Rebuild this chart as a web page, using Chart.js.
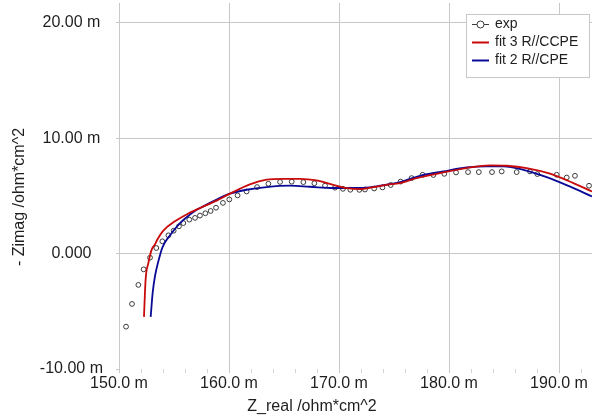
<!DOCTYPE html>
<html>
<head>
<meta charset="utf-8">
<title>Impedance fit</title>
<script src="https://cdn.jsdelivr.net/npm/chart.js@4/dist/chart.umd.min.js"></script>
<style>
  html, body { margin: 0; padding: 0; background: #fff; }
  #wrap { position: relative; width: 592px; height: 419px; }
</style>
</head>
<body>
<div id="wrap"><canvas id="chart"></canvas></div>
<script>
// Nyquist plot: measured points plus two equivalent-circuit fits (values in milli-ohm*cm^2).

const expX = [150.64, 151.18, 151.76, 152.24, 152.82, 153.39, 153.94, 154.49, 154.97, 155.45,
  155.85, 156.39, 156.91, 157.36, 157.85, 158.33, 158.82, 159.45, 160.03, 160.78,
  161.6, 162.55, 163.58, 164.64, 165.7, 166.76, 167.76, 168.73, 169.64, 170.36,
  171.03, 171.85, 172.36, 173.2, 173.95, 174.7, 175.6, 176.6, 177.6, 178.58,
  179.57, 180.64, 181.73, 182.71, 183.91, 184.79, 186.15, 187.36, 188.03, 189.79,
  190.7, 191.45, 192.73];
const expY = [-6.33, -4.36, -2.71, -1.36, -0.35, 0.49, 1.07, 1.59, 1.99, 2.37,
  2.65, 2.95, 3.1, 3.3, 3.5, 3.7, 3.98, 4.4, 4.7, 5.05,
  5.39, 5.77, 6.06, 6.22, 6.24, 6.2, 6.1, 5.9, 5.72, 5.62,
  5.54, 5.53, 5.56, 5.65, 5.74, 5.95, 6.25, 6.55, 6.84, 6.82,
  6.92, 7.04, 7.07, 7.07, 7.07, 7.13, 7.07, 7.13, 6.9, 6.84,
  6.6, 6.75, 5.89];

const fit3X = [152.27, 152.42, 152.67, 152.97, 153.27, 153.5, 154.03, 154.94, 156.15, 157.36,
  158.88, 160.09, 161.9, 163.42, 164.94, 166.45, 167.97, 169.48, 170.7, 171.91,
  173.12, 174.33, 175.55, 177.06, 179.48, 181.6, 183.73, 185.24, 187.06, 189.18,
  191.3, 193.0];
const fit3Y = [-5.48, -2.25, -0.81, 0.35, 0.8, 1.25, 2.0, 2.72, 3.4, 3.95,
  4.6, 5.2, 6.0, 6.41, 6.49, 6.49, 6.35, 5.97, 5.69, 5.6,
  5.77, 5.97, 6.12, 6.55, 7.04, 7.42, 7.65, 7.62, 7.42, 6.93,
  6.12, 5.39];

const fit2X = [152.88, 153.06, 153.27, 153.58, 153.95, 154.64, 155.55, 156.45, 157.06, 157.67,
  158.88, 160.09, 161.6, 163.42, 165.55, 167.36, 169.48, 171.0, 172.2, 173.73,
  175.55, 177.36, 179.48, 181.6, 183.42, 184.94, 186.76, 188.88, 190.97, 193.0];
const fit2Y = [-5.48, -3.4, -1.96, -0.66, 0.55, 1.6, 2.65, 3.38, 3.8, 4.1,
  4.7, 5.2, 5.54, 5.77, 5.89, 5.8, 5.69, 5.69, 5.71, 5.89,
  6.2, 6.75, 7.13, 7.47, 7.56, 7.56, 7.27, 6.64, 5.83, 4.96];

const xTicks = [150, 160, 170, 180, 190];
const yTicks = [-10, 0, 10, 20];
const xMinorStep = 2;

const FONT = 'Arial, "Liberation Sans", sans-serif';
const GRID = '#c8c8c8';
const TEXT = '#1e1e1e';

const toPoints = (xs, ys) => xs.map((x, i) => ({ x, y: ys[i] }));

// Axis titles sit off the plot centre, so they are painted by hand.
const axisTitles = {
  id: 'axisTitles',
  afterDraw(chart) {
    const { ctx } = chart;
    ctx.save();
    ctx.fillStyle = TEXT;
    ctx.font = '16px ' + FONT;
    ctx.textAlign = 'center';
    ctx.textBaseline = 'middle';
    ctx.fillText('Z_real /ohm*cm^2', 312, 407);
    ctx.translate(20, 197);
    ctx.rotate(-Math.PI / 2);
    ctx.fillText('- Zimag /ohm*cm^2', 0, 0);
    ctx.restore();
  },
};

// Boxed legend in the upper right corner of the plot.
const boxLegend = {
  id: 'boxLegend',
  afterDraw(chart) {
    const { ctx } = chart;
    const left = 466, top = 14, w = 123, h = 63;
    ctx.save();
    ctx.fillStyle = '#fff';
    ctx.fillRect(left, top, w, h);
    ctx.strokeStyle = '#c8c8c8';
    ctx.lineWidth = 1;
    ctx.strokeRect(left + 0.5, top + 0.5, w, h);
    ctx.font = '14px ' + FONT;
    ctx.textBaseline = 'middle';
    chart.data.datasets.forEach((ds, i) => {
      const y = top + 10 + i * 18;
      ctx.strokeStyle = ds.legendColor;
      ctx.lineWidth = ds.showLine ? 2 : 1;
      ctx.beginPath();
      ctx.moveTo(472, y + 0.5);
      ctx.lineTo(489, y + 0.5);
      ctx.stroke();
      if (!ds.showLine) {
        ctx.fillStyle = '#fff';
        ctx.beginPath();
        ctx.arc(480.5, y + 0.5, 3.5, 0, Math.PI * 2);
        ctx.fill();
        ctx.stroke();
      }
      ctx.fillStyle = TEXT;
      ctx.fillText(ds.label, 495, y);
    });
    ctx.restore();
  },
};

// Fixed axis sizes, with no extra room reserved for overhanging tick labels.
function fixX(s) {
  s.height = 50;
  s.paddingLeft = 0;
  s.paddingRight = 0;
}
function fixY(s) {
  s.width = 119;
  s.paddingTop = 0;
  s.paddingBottom = 0;
}

new Chart(document.getElementById('chart'), {
  type: 'scatter',
  data: {
    datasets: [
      {
        label: 'exp',
        data: toPoints(expX, expY),
        showLine: false,
        pointRadius: 2.4,
        pointBorderWidth: 1,
        pointBorderColor: '#3a3a3a',
        pointBackgroundColor: 'rgba(255,255,255,0)',
        legendColor: '#3a3a3a',
        order: 3,
      },
      {
        label: 'fit 3 R//CCPE',
        data: toPoints(fit3X, fit3Y),
        showLine: true,
        borderColor: '#c80a0a',
        legendColor: '#c80a0a',
        borderWidth: 1.8,
        pointRadius: 0,
        cubicInterpolationMode: 'monotone',
        order: 1,
      },
      {
        label: 'fit 2 R//CPE',
        data: toPoints(fit2X, fit2Y),
        showLine: true,
        borderColor: '#0a0a96',
        legendColor: '#0a0a96',
        borderWidth: 1.8,
        pointRadius: 0,
        cubicInterpolationMode: 'monotone',
        order: 2,
      },
    ],
  },
  options: {
    responsive: true,
    maintainAspectRatio: false,
    animation: false,
    events: [],
    layout: { autoPadding: false, padding: { top: 3, right: 0, left: 0, bottom: 0 } },
    plugins: {
      legend: { display: false },
      tooltip: { enabled: false },
    },
    scales: {
      x: {
        type: 'linear',
        min: 150,
        max: 193,
        afterFit: fixX,
        afterBuildTicks: (s) => {
          const ticks = [];
          for (let v = xTicks[0]; v <= 193; v += xMinorStep) ticks.push({ value: v });
          s.ticks = ticks;
        },
        border: { display: false },
        grid: {
          color: (c) => (c.tick && xTicks.includes(c.tick.value) ? GRID : 'rgba(0,0,0,0)'),
          tickColor: (c) => (c.tick && xTicks.includes(c.tick.value) ? GRID : '#d4d4d4'),
          tickLength: 4,
          lineWidth: 1,
        },
        ticks: {
          autoSkip: false,
          maxRotation: 0,
          padding: 1,
          color: TEXT,
          font: { family: FONT, size: 16 },
          callback: (v) => (xTicks.includes(v) ? v.toFixed(1) + ' m' : ''),
        },
      },
      y: {
        type: 'linear',
        min: -10,
        max: 21.73,
        afterFit: fixY,
        afterBuildTicks: (s) => { s.ticks = yTicks.map((v) => ({ value: v })); },
        border: { display: true, color: GRID, width: 1 },
        grid: {
          color: (c) => (c.tick && c.tick.value === yTicks[0] ? 'rgba(0,0,0,0)' : GRID),
          tickColor: GRID,
          tickLength: 3,
          lineWidth: 1,
        },
        ticks: {
          crossAlign: 'center',
          padding: 13,
          color: TEXT,
          font: { family: FONT, size: 16 },
          callback: (v) => (v === 0 ? '0.000' : v.toFixed(2) + ' m'),
        },
      },
    },
  },
  plugins: [axisTitles, boxLegend],
});
</script>
</body>
</html>
